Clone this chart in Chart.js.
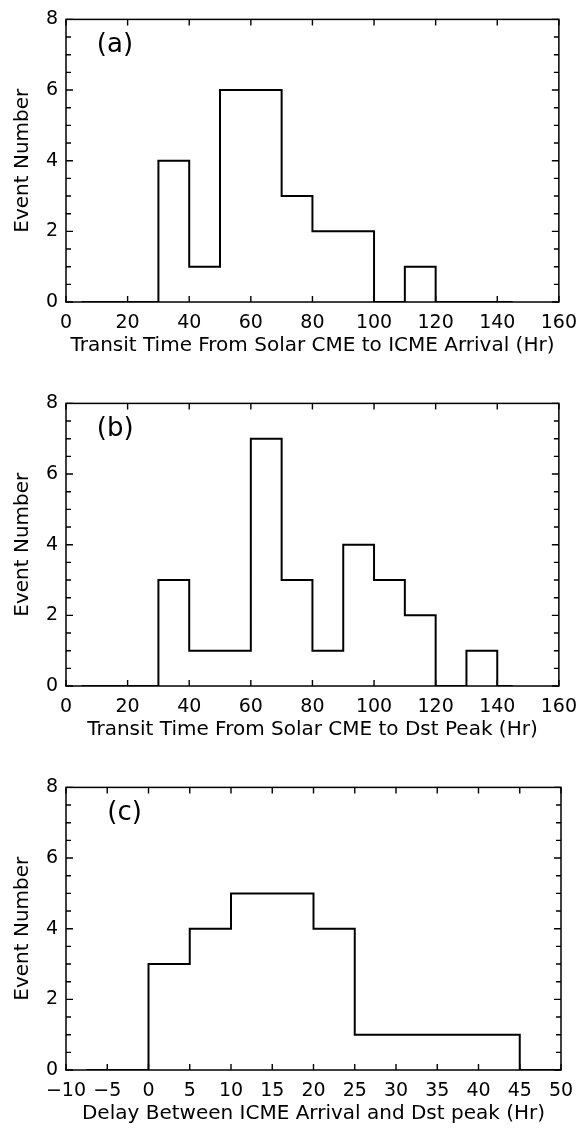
<!DOCTYPE html>
<html>
<head>
<meta charset="utf-8">
<script src="https://cdn.jsdelivr.net/npm/chart.js@4.4.1/dist/chart.umd.min.js"></script>
<style>
  html, body { margin: 0; padding: 0; background: #fff; }
  #wrap { position: relative; width: 587px; height: 1129px; overflow: hidden; }
  canvas { position: absolute; left: 0; }
</style>
</head>
<body>
<div id="wrap">
  <canvas id="panelA" width="587" height="361" style="top:0px"></canvas>
  <canvas id="panelB" width="587" height="361" style="top:384px"></canvas>
  <canvas id="panelC" width="587" height="361" style="top:768px"></canvas>
</div>
<script>
// histogram bins: left edges plus the closing edge, and counts per bin
const edgesA = [5, 30, 40, 50, 60, 70, 80, 90, 100, 110, 120, 145];
const countsA = [0, 4, 1, 6, 6, 3, 2, 2, 0, 1, 0];

const edgesB = [5, 30, 40, 50, 60, 70, 80, 90, 100, 110, 120, 130, 140, 145];
const countsB = [0, 3, 1, 1, 7, 3, 1, 4, 3, 2, 0, 1, 0];

const edgesC = [-7.5, 0, 5, 10, 15, 20, 25, 30, 35, 40, 45, 50];
const countsC = [0, 3, 4, 5, 5, 4, 1, 1, 1, 1, 0];

const xRangeAB = [0, 160];
const xStepAB = 20;
const xRangeC = [-10, 50];
const xStepC = 5;
const yRange = [0, 8];
const yStep = 2;
const yMinorStep = 0.5;

const titlesX = [
    "Transit Time From Solar CME to ICME Arrival (Hr)",
    "Transit Time From Solar CME to Dst Peak (Hr)",
    "Delay Between ICME Arrival and Dst peak (Hr)"
];
const panelTags = ["(a)", "(b)", "(c)"];
const yTitle = "Event Number";

const FONT = "'DejaVu Sans', 'Liberation Sans', sans-serif";
Chart.defaults.font.family = FONT;
Chart.defaults.color = "#000";

// turn bins into step points (left edge, count) + closing point
function stepPoints(edges, counts) {
    const pts = counts.map((c, i) => ({ x: edges[i], y: c }));
    pts.push({ x: edges[edges.length - 1], y: counts[counts.length - 1] });
    return pts;
}

// box around the plot area with inward ticks on all four sides
const framePlugin = {
    id: "frame",
    afterDatasetsDraw(chart, args, opts) {
        const { ctx, chartArea: a, scales } = chart;
        const xs = scales.x, ys = scales.y;
        ctx.save();
        ctx.strokeStyle = "#000";
        ctx.lineWidth = 1.5;
        ctx.strokeRect(a.left, a.top, a.right - a.left, a.bottom - a.top);

        ctx.lineWidth = 1.4;
        ctx.beginPath();
        xs.ticks.forEach(t => {
            const px = xs.getPixelForValue(t.value);
            ctx.moveTo(px, a.bottom); ctx.lineTo(px, a.bottom - 6);
            ctx.moveTo(px, a.top); ctx.lineTo(px, a.top + 6);
        });
        for (let v = yRange[0]; v <= yRange[1] + 1e-9; v += yMinorStep) {
            const py = ys.getPixelForValue(v);
            const len = Math.abs(v % yStep) < 1e-9 ? 7 : 5;
            ctx.moveTo(a.left, py); ctx.lineTo(a.left + len, py);
            ctx.moveTo(a.right, py); ctx.lineTo(a.right - len, py);
        }
        ctx.stroke();

        // panel tag in the upper left corner
        ctx.fillStyle = "#000";
        ctx.font = "26px " + FONT;
        ctx.textAlign = "left";
        ctx.textBaseline = "middle";
        ctx.fillText(opts.tag, xs.getPixelForValue(opts.tagX), ys.getPixelForValue(7.27));
        ctx.restore();
    }
};

function buildPanel(canvasId, edges, counts, xRange, xStep, titleX, tag, tagX) {
    const ctx = document.getElementById(canvasId).getContext("2d");
    return new Chart(ctx, {
        type: "scatter",
        data: {
            datasets: [{
                data: stepPoints(edges, counts),
                showLine: true,
                stepped: true,
                borderColor: "#000",
                borderWidth: 2,
                pointRadius: 0,
                fill: false
            }]
        },
        options: {
            responsive: false,
            animation: false,
            layout: { padding: { top: 12, right: 26, bottom: 0, left: 0 } },
            plugins: {
                legend: { display: false },
                tooltip: { enabled: false },
                frame: { tag: tag, tagX: tagX }
            },
            scales: {
                x: {
                    type: "linear",
                    min: xRange[0],
                    max: xRange[1],
                    grid: { display: false, drawTicks: false },
                    border: { display: false },
                    ticks: {
                        stepSize: xStep,
                        padding: 10,
                        maxRotation: 0,
                        autoSkip: false,
                        font: { size: 19 },
                        callback: v => String(v).replace("-", "\u2212")
                    },
                    title: {
                        display: true,
                        text: titleX,
                        font: { size: 20 },
                        padding: { top: 0, bottom: 3 }
                    },
                    afterFit(scale) { scale.height = 59; }
                },
                y: {
                    min: yRange[0],
                    max: yRange[1],
                    grid: { display: false, drawTicks: false },
                    border: { display: false },
                    ticks: {
                        stepSize: yStep,
                        padding: 8,
                        font: { size: 19 }
                    },
                    title: {
                        display: true,
                        text: yTitle,
                        font: { size: 20 },
                        padding: { top: 11, bottom: 0 }
                    },
                    afterFit(scale) { scale.width = 66; }
                }
            }
        },
        plugins: [framePlugin]
    });
}

buildPanel("panelA", edgesA, countsA, xRangeAB, xStepAB, titlesX[0], panelTags[0], 10);
buildPanel("panelB", edgesB, countsB, xRangeAB, xStepAB, titlesX[1], panelTags[1], 10);
buildPanel("panelC", edgesC, countsC, xRangeC, xStepC, titlesX[2], panelTags[2], -5);
</script>
</body>
</html>
